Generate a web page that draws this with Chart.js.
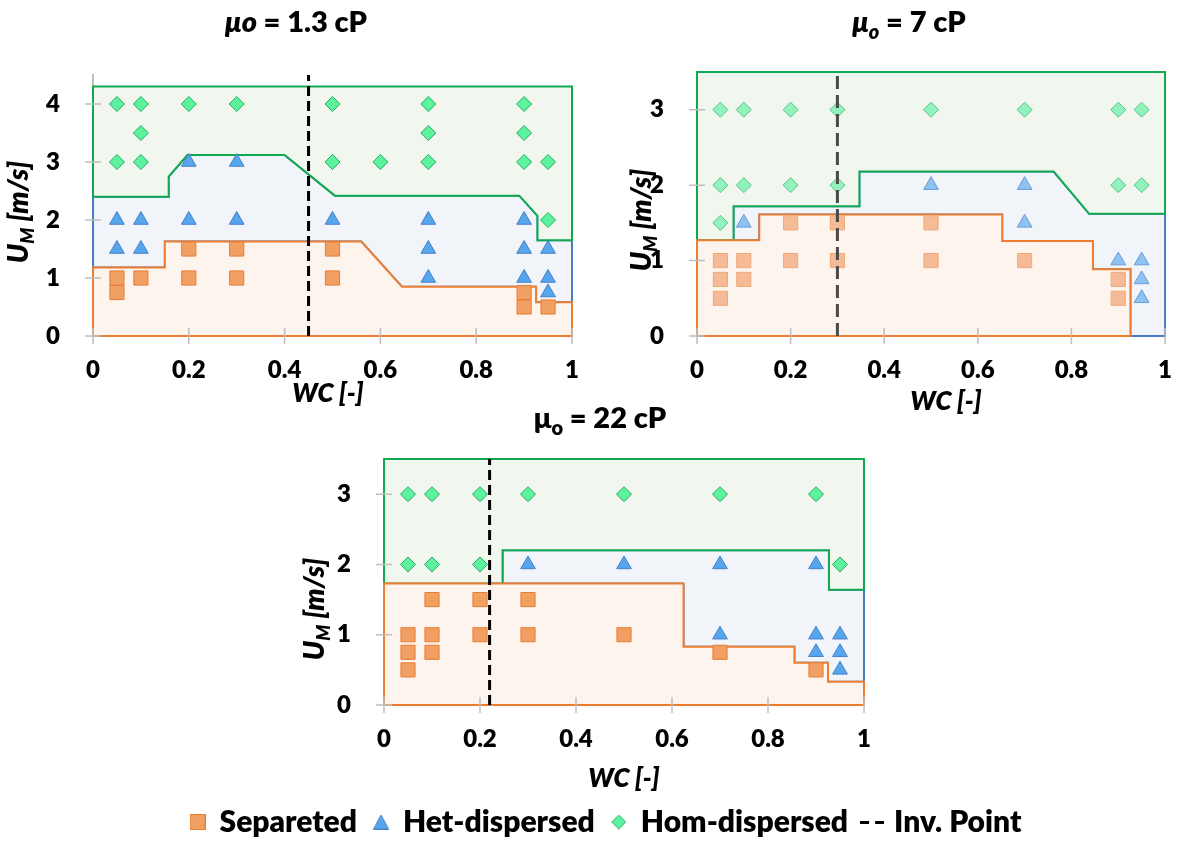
<!DOCTYPE html>
<html>
<head>
<meta charset="utf-8">
<title>Flow pattern maps</title>
<script src="https://cdn.jsdelivr.net/npm/chart.js@4.4.1/dist/chart.umd.min.js"></script>
<style>
  html, body { margin: 0; padding: 0; background: #fff; width: 1184px; height: 841px; overflow: hidden; }
  canvas { position: absolute; }
</style>
</head>
<body>
<canvas id="map1" width="592" height="410" style="left:0;top:0"></canvas>
<canvas id="map2" width="584" height="420" style="left:600px;top:0"></canvas>
<canvas id="map3" width="1184" height="456" style="left:0;top:395px"></canvas>
<script>
// ---------- μo = 1.3 cP ----------
const wc1Sep = [0.05, 0.05, 0.1, 0.2, 0.2, 0.3, 0.3, 0.5, 0.5, 0.9, 0.9, 0.95];
const um1Sep = [1, 0.75, 1, 1.5, 1, 1.5, 1, 1.5, 1, 0.75, 0.5, 0.5];
const wc1Het = [0.05, 0.05, 0.1, 0.1, 0.2, 0.2, 0.3, 0.3, 0.5, 0.7, 0.7, 0.7, 0.9, 0.9, 0.9, 0.95, 0.95, 0.95];
const um1Het = [2, 1.5, 2, 1.5, 3, 2, 3, 2, 2, 2, 1.5, 1, 2, 1.5, 1, 1.5, 1, 0.75];
const wc1Hom = [0.05, 0.05, 0.1, 0.1, 0.1, 0.2, 0.3, 0.5, 0.5, 0.6, 0.7, 0.7, 0.7, 0.9, 0.9, 0.9, 0.95, 0.95];
const um1Hom = [4, 3, 4, 3.5, 3, 4, 4, 4, 3, 3, 4, 3.5, 3, 4, 3.5, 3, 3, 2];
const inv1 = 0.45;
// transition boundaries (separated → het-dispersed, het-dispersed → hom-dispersed)
const sepEdge1X = [0, 0.15, 0.15, 0.56, 0.645, 0.925, 0.925, 1];
const sepEdge1Y = [1.18, 1.18, 1.63, 1.63, 0.85, 0.85, 0.58, 0.58];
const hetEdge1X = [0, 0.158, 0.158, 0.197, 0.4, 0.505, 0.89, 0.928, 0.928, 1];
const hetEdge1Y = [2.4, 2.4, 2.75, 3.12, 3.12, 2.42, 2.42, 2.07, 1.65, 1.65];
const mapTop1 = 4.3;
const yMax1 = 4.5;

// ---------- μo = 7 cP ----------
const wc2Sep = [0.05, 0.05, 0.05, 0.1, 0.1, 0.2, 0.2, 0.3, 0.3, 0.5, 0.5, 0.7, 0.9, 0.9];
const um2Sep = [1, 0.75, 0.5, 1, 0.75, 1.5, 1, 1.5, 1, 1.5, 1, 1, 0.75, 0.5];
const wc2Het = [0.1, 0.5, 0.7, 0.7, 0.9, 0.95, 0.95, 0.95];
const um2Het = [1.5, 2, 2, 1.5, 1, 1, 0.75, 0.5];
const wc2Hom = [0.05, 0.05, 0.05, 0.1, 0.1, 0.2, 0.2, 0.3, 0.3, 0.5, 0.7, 0.9, 0.9, 0.95, 0.95];
const um2Hom = [3, 2, 1.5, 3, 2, 3, 2, 3, 2, 3, 3, 3, 2, 3, 2];
const inv2 = 0.3;
const sepEdge2X = [0, 0.133, 0.133, 0.652, 0.652, 0.846, 0.846, 0.926, 0.926];
const sepEdge2Y = [1.27, 1.27, 1.61, 1.61, 1.26, 1.26, 0.885, 0.885, 0];
const hetEdge2X = [0.078, 0.078, 0.347, 0.347, 0.762, 0.838, 1];
const hetEdge2Y = [1.27, 1.72, 1.72, 2.18, 2.18, 1.62, 1.62];
const mapTop2 = 3.5;
const yMax2 = 3.5;

// ---------- μo = 22 cP ----------
const wc3Sep = [0.05, 0.05, 0.05, 0.1, 0.1, 0.1, 0.2, 0.2, 0.3, 0.3, 0.5, 0.7, 0.9];
const um3Sep = [1, 0.75, 0.5, 1.5, 1, 0.75, 1.5, 1, 1.5, 1, 1, 0.75, 0.5];
const wc3Het = [0.3, 0.5, 0.7, 0.7, 0.9, 0.9, 0.9, 0.95, 0.95, 0.95];
const um3Het = [2, 2, 2, 1, 2, 1, 0.75, 1, 0.75, 0.5];
const wc3Hom = [0.05, 0.05, 0.1, 0.1, 0.2, 0.2, 0.3, 0.5, 0.7, 0.9, 0.95];
const um3Hom = [3, 2, 3, 2, 3, 2, 3, 3, 3, 3, 2];
const inv3 = 0.22;
const sepEdge3X = [0, 0.624, 0.624, 0.855, 0.855, 0.925, 0.925, 1];
const sepEdge3Y = [1.73, 1.73, 0.83, 0.83, 0.6, 0.6, 0.33, 0.33];
const hetEdge3X = [0.247, 0.247, 0.927, 0.927, 1];
const hetEdge3Y = [1.73, 2.2, 2.2, 1.64, 1.64];
const mapTop3 = 3.5;
const yMax3 = 3.5;

const seriesNames = ['Separeted', 'Het-dispersed', 'Hom-dispersed', 'Inv. Point'];

const FONT = 'Lato';
const W = 800;
const IB = s => `italic ${W} ${s}px ${FONT}`;
const B = s => `${W} ${s}px ${FONT}`;

// ---------- helpers ----------
const pts = (xs, ys) => xs.map((x, i) => ({ x, y: ys[i] }));

// closed outlines of the three regime regions
function regionOutlines(sepX, sepY, hetX, hetY, top) {
  const sep = pts(sepX, sepY), het = pts(hetX, hetY);
  const last = sep[sep.length - 1];
  const sepPoly = [{ x: 0, y: 0 }, ...sep];
  if (last.y !== 0) sepPoly.push({ x: last.x, y: 0 });
  sepPoly.push({ x: 0, y: 0 });

  const h0 = het[0].x;
  const hetPoly = sep.filter(p => p.x >= h0);
  if (last.x < 1) hetPoly.push({ x: 1, y: 0 });
  hetPoly.push(...het.slice().reverse());
  hetPoly.push(hetPoly[0]);

  const homPoly = [...sep.filter(p => p.x < h0), ...het, { x: 1, y: top }, { x: 0, y: top }];
  homPoly.push(homPoly[0]);
  return { sepPoly, hetPoly, homPoly };
}

// text made of several font runs (subscripts, italic symbols)
const richText = {
  id: 'richText',
  afterDraw(chart, args, opts) {
    const ctx = chart.ctx;
    (opts.items || []).forEach(item => {
      ctx.save();
      ctx.translate(item.x, item.y);
      if (item.rotate) ctx.rotate(item.rotate);
      ctx.fillStyle = '#000';
      ctx.textBaseline = 'alphabetic';
      ctx.textAlign = 'left';
      let total = 0;
      item.runs.forEach(r => { ctx.font = r.font; total += ctx.measureText(r.text).width; });
      let x = -total / 2;
      item.runs.forEach(r => {
        ctx.font = r.font;
        ctx.fillText(r.text, x, r.dy || 0);
        x += ctx.measureText(r.text).width;
      });
      ctx.restore();
    });
  }
};

// tick marks that cross the axis lines
const crossTicks = {
  id: 'crossTicks',
  afterDatasetsDraw(chart, args, opts) {
    const { ctx, chartArea } = chart;
    const xs = chart.scales.x, ys = chart.scales.y;
    const len = opts.length || 8;
    ctx.save();
    ctx.strokeStyle = opts.color || '#BFBFBF';
    ctx.lineWidth = opts.width || 1.5;
    ctx.beginPath();
    xs.ticks.forEach(t => {
      const px = xs.getPixelForValue(t.value);
      ctx.moveTo(px, chartArea.bottom - len);
      ctx.lineTo(px, chartArea.bottom + len);
    });
    ys.ticks.forEach(t => {
      const py = ys.getPixelForValue(t.value);
      ctx.moveTo(chartArea.left - len, py);
      ctx.lineTo(chartArea.left + len, py);
    });
    ctx.stroke();
    ctx.restore();
  }
};

const vivid = {
  sep: ['#F0A062', '#E97C30'],
  het: ['#56A6EE', '#4A7FC8'],
  hom: ['#5CF29E', '#2DA862']
};
const pale = {
  sep: ['#F5BA96', '#F1A877'],
  het: ['#8EC2F0', '#6C9BD6'],
  hom: ['#92F2BD', '#5BC389']
};

function scaleOpts(yMax, yWidth, xHeight, onTop) {
  const tickFont = { family: FONT, size: 24, weight: W };
  return {
    x: {
      type: 'linear', min: 0, max: 1, z: onTop ? 1 : 0,
      ticks: { stepSize: 0.2, font: tickFont, color: '#000', padding: 12, callback: v => String(+v.toFixed(1)) },
      grid: { display: false },
      border: { display: true, color: '#BFBFBF', width: 2 },
      afterFit: s => { s.height = xHeight; }
    },
    y: {
      type: 'linear', min: 0, max: yMax, z: onTop ? 1 : 0,
      ticks: { stepSize: 1, font: tickFont, color: '#000', padding: 25 },
      afterBuildTicks: s => { s.ticks = s.ticks.filter(t => Number.isInteger(t.value)); },
      grid: { display: false },
      border: { display: true, color: '#BFBFBF', width: 2 },
      afterFit: s => { s.width = yWidth; }
    }
  };
}

function makeDatasets(d, marks, dashColor, dashPattern) {
  const r = regionOutlines(d.sepX, d.sepY, d.hetX, d.hetY, d.top);
  const scatter = (label, x, y, colors, style, radius) => ({
    label, data: pts(x, y), pointStyle: style, pointRadius: radius, pointHoverRadius: radius,
    backgroundColor: colors[0], borderColor: colors[1],
    pointBackgroundColor: colors[0], pointBorderColor: colors[1], pointBorderWidth: 1, order: 3
  });
  const outline = (data, fillColor, lineColor, order) => ({
    type: 'line', label: '', data, fill: 'shape', backgroundColor: fillColor, borderColor: lineColor,
    borderWidth: 2, pointRadius: 0, pointHoverRadius: 0, tension: 0, clip: false, order
  });
  return [
    scatter(seriesNames[0], d.wcSep, d.umSep, marks.sep, 'rect', 10),
    scatter(seriesNames[1], d.wcHet, d.umHet, marks.het, 'triangle', 8.5),
    scatter(seriesNames[2], d.wcHom, d.umHom, marks.hom, 'rectRot', 7.5),
    {
      type: 'line', label: seriesNames[3], data: [{ x: d.inv, y: 0 }, { x: d.inv, y: d.yMax }],
      borderColor: dashColor, backgroundColor: dashColor, borderWidth: 3, borderDash: dashPattern,
      pointRadius: 0, pointHoverRadius: 0, fill: false, clip: false, order: 1
    },
    outline(r.sepPoly, '#FDF4EE', '#ED7D31', 10),
    outline(r.hetPoly, '#F1F5FA', '#4A7CC6', 12),
    outline(r.homPoly, '#F1F7EE', '#10A850', 11)
  ];
}

const yTitleRuns = [
  { text: 'U', font: IB(28) },
  { text: 'M', font: IB(18), dy: 6 },
  { text: ' [m/s]', font: IB(28) }
];

const baseOptions = (scales, padding, textItems, legend) => ({
  responsive: false,
  animation: false,
  events: [],
  layout: { padding },
  scales,
  plugins: {
    legend: legend || { display: false },
    tooltip: { enabled: false },
    crossTicks: { color: '#BFBFBF', width: 1.5, length: 8 },
    richText: { items: textItems }
  }
});

// ---------- map 1 ----------
new Chart(document.getElementById('map1'), {
  type: 'scatter',
  data: {
    datasets: makeDatasets({
      wcSep: wc1Sep, umSep: um1Sep, wcHet: wc1Het, umHet: um1Het, wcHom: wc1Hom, umHom: um1Hom,
      inv: inv1, yMax: yMax1, sepX: sepEdge1X, sepY: sepEdge1Y, hetX: hetEdge1X, hetY: hetEdge1Y, top: mapTop1
    }, vivid, '#000', [10, 5])
  },
  options: baseOptions(scaleOpts(yMax1, 93, 74, true), { left: 0, right: 20, top: 75, bottom: 0 }, [
    { x: 296, y: 32, runs: [{ text: 'μo', font: IB(29) }, { text: ' = 1.3 cP', font: B(29) }] },
    { x: 328, y: 402, runs: [{ text: 'WC [-]', font: IB(26) }] },
    { x: 28, y: 212, rotate: -Math.PI / 2, runs: yTitleRuns }
  ]),
  plugins: [richText, crossTicks]
});

// ---------- map 2 ----------
new Chart(document.getElementById('map2'), {
  type: 'scatter',
  data: {
    datasets: makeDatasets({
      wcSep: wc2Sep, umSep: um2Sep, wcHet: wc2Het, umHet: um2Het, wcHom: wc2Hom, umHom: um2Hom,
      inv: inv2, yMax: yMax2, sepX: sepEdge2X, sepY: sepEdge2Y, hetX: hetEdge2X, hetY: hetEdge2Y, top: mapTop2
    }, pale, '#4A4A4A', [13, 6])
  },
  options: baseOptions(scaleOpts(yMax2, 97, 84, false), { left: 0, right: 8, top: 72, bottom: 0 }, [
    { x: 309, y: 32, runs: [{ text: 'μ', font: IB(29) }, { text: 'o', font: IB(20), dy: 7 }, { text: ' = 7 cP', font: B(29) }] },
    { x: 346, y: 410, runs: [{ text: 'WC [-]', font: IB(26) }] },
    { x: 51, y: 220, rotate: -Math.PI / 2, runs: yTitleRuns }
  ]),
  plugins: [richText, crossTicks]
});

// ---------- map 3 (carries the shared legend) ----------
function legendIcon(kind) {
  const c = document.createElement('canvas');
  const g = c.getContext('2d');
  if (kind === 0) {
    c.width = 16; c.height = 16;
    g.fillStyle = vivid.sep[0]; g.strokeStyle = vivid.sep[1]; g.lineWidth = 1;
    g.fillRect(0.5, 0.5, 15, 15); g.strokeRect(0.5, 0.5, 15, 15);
  } else if (kind === 1) {
    c.width = 16; c.height = 15;
    g.fillStyle = vivid.het[0]; g.strokeStyle = vivid.het[1]; g.lineWidth = 1;
    g.beginPath(); g.moveTo(8, 0.5); g.lineTo(15.5, 14.5); g.lineTo(0.5, 14.5); g.closePath(); g.fill(); g.stroke();
  } else if (kind === 2) {
    c.width = 15; c.height = 15;
    g.fillStyle = vivid.hom[0]; g.strokeStyle = vivid.hom[1]; g.lineWidth = 1;
    g.beginPath(); g.moveTo(7.5, 0.5); g.lineTo(14.5, 7.5); g.lineTo(7.5, 14.5); g.lineTo(0.5, 7.5); g.closePath(); g.fill(); g.stroke();
  } else {
    c.width = 24; c.height = 4;
    g.fillStyle = '#000';
    g.fillRect(0, 1, 9, 3); g.fillRect(15, 1, 9, 3);
  }
  return c;
}
const legendIcons = [0, 1, 2, 3].map(legendIcon);

new Chart(document.getElementById('map3'), {
  type: 'scatter',
  data: {
    datasets: makeDatasets({
      wcSep: wc3Sep, umSep: um3Sep, wcHet: wc3Het, umHet: um3Het, wcHom: wc3Hom, umHom: um3Hom,
      inv: inv3, yMax: yMax3, sepX: sepEdge3X, sepY: sepEdge3Y, hetX: hetEdge3X, hetY: hetEdge3Y, top: mapTop3
    }, vivid, '#000', [10, 5])
  },
  options: baseOptions(
    Object.assign(scaleOpts(yMax3, 356, 85, true), {
      yR: {
        type: 'linear', position: 'right', display: true,
        grid: { display: false }, border: { display: false }, ticks: { display: false },
        afterFit: s => { s.width = 320; }
      }
    }),
    { left: 28, right: 0, top: 64, bottom: 4 },
    [
      { x: 600, y: 33, runs: [{ text: 'μ', font: B(29) }, { text: 'o', font: B(20), dy: 7 }, { text: ' = 22 cP', font: B(29) }] },
      { x: 624, y: 392, runs: [{ text: 'WC [-]', font: IB(26) }] },
      { x: 324, y: 214, rotate: -Math.PI / 2, runs: yTitleRuns }
    ],
    {
      display: true,
      position: 'bottom',
      labels: {
        usePointStyle: true,
        boxWidth: 14,
        boxHeight: 14,
        padding: 17,
        color: '#000',
        font: { family: FONT, size: 30, weight: W },
        generateLabels(chart) {
          const items = Chart.defaults.plugins.legend.labels.generateLabels(chart);
          return items.map(it => Object.assign(it, { pointStyle: legendIcons[it.datasetIndex] || it.pointStyle }));
        },
        filter: item => item.datasetIndex < 4,
        sort: (a, b) => a.datasetIndex - b.datasetIndex
      }
    }
  ),
  plugins: [richText, crossTicks]
});
</script>
</body>
</html>
